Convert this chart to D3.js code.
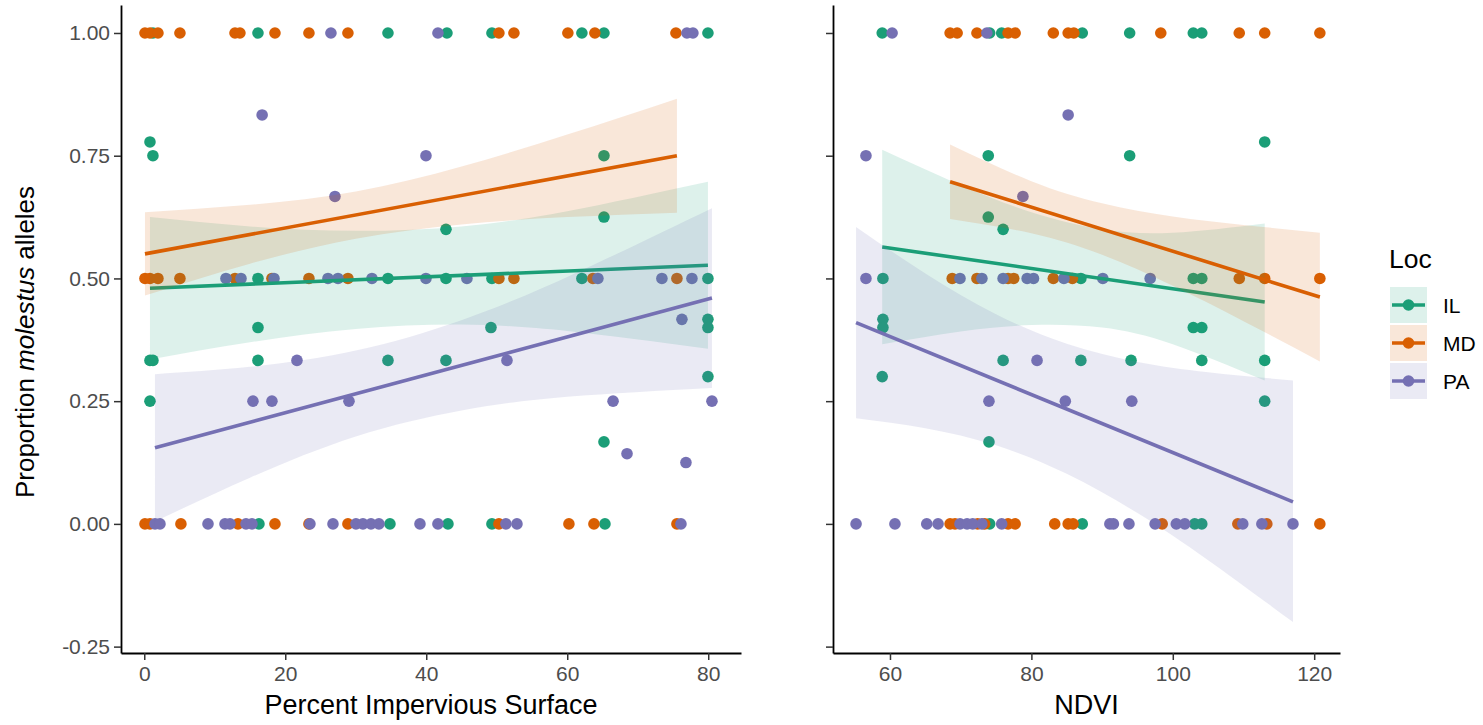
<!DOCTYPE html>
<html><head><meta charset="utf-8">
<script src="https://cdn.jsdelivr.net/npm/d3@7"></script>
<style>
body{margin:0;background:#fff}
svg{display:block}
text{font-family:"Liberation Sans",Arial,Helvetica,sans-serif}
</style>
</head><body>
<svg id="c" width="1483" height="725"></svg>
<script>
const locs = ["IL","MD","PA"];
const locColors = ["#1B9E77","#D95F02","#7570B3"];
const yTicks = [-0.25,0,0.25,0.5,0.75,1];
const yTickLabels = ["-0.25","0.00","0.25","0.50","0.75","1.00"];
const imperviousTicks = [0,20,40,60,80];
const ndviTicks = [60,80,100,120];

// Percent Impervious Surface panel: [x, proportion]
const imperviousIL = [[1.23,1],[16.13,1],[34.57,1],[42.94,1],[49.32,1],[62.08,1],[65.21,1],[79.96,1],
  [0.81,0.778],[1.23,0.75],[65.21,0.75],[65.21,0.625],[42.8,0.6],
  [16.13,0.5],[34.57,0.5],[42.8,0.5],[49.32,0.5],[62.08,0.5],[79.96,0.5],
  [79.96,0.4167],[16.13,0.4],[49.18,0.4],[79.96,0.4],
  [0.81,0.333],[1.23,0.333],[16.13,0.333],[34.57,0.333],[42.8,0.333],[79.96,0.3],[0.81,0.25],[65.21,0.167],
  [16.27,0],[34.85,0],[43.08,0],[49.32,0],[65.35,0]];
const imperviousMD = [[0.1,1],[0.81,1],[1.94,1],[5.06,1],[12.87,1],[13.57,1],[18.54,1],[23.36,1],[28.89,1],[50.31,1],[52.44,1],[60.09,1],[63.92,1],[75.42,1],
  [0.1,0.5],[0.81,0.5],[1.94,0.5],[5.06,0.5],[12.87,0.5],[18.11,0.5],[23.36,0.5],[28.89,0.5],[50.31,0.5],[52.44,0.5],[63.64,0.5],[75.56,0.5],
  [0.1,0],[0.81,0],[5.2,0],[13.29,0],[18.54,0],[23.36,0],[28.89,0],[50.31,0],[60.24,0],[63.79,0],[75.56,0]];
const imperviousPA = [[26.48,1],[41.66,1],[76.98,1],[77.83,1],[16.72,0.833],[39.96,0.75],[27.05,0.667],
  [11.59,0.5],[13.72,0.5],[18.4,0.5],[26.06,0.5],[27.48,0.5],[32.3,0.5],[39.96,0.5],[45.77,0.5],[64.35,0.5],[73.43,0.5],[77.69,0.5],
  [76.27,0.4167],[21.66,0.333],[51.45,0.333],[15.42,0.25],[18.11,0.25],[29.04,0.25],[66.5,0.25],[80.53,0.25],[68.48,0.143],[76.84,0.125],
  [1.52,0],[2.23,0],[9.04,0],[11.45,0],[12.16,0],[14.43,0],[15.28,0],[23.5,0],[26.77,0],[30.03,0],[31.02,0],[32.16,0],[33.29,0],[39.11,0],[41.66,0],[51.3,0],[52.87,0],[76.13,0]];

// NDVI panel: [x, proportion]
const ndviIL = [[58.9,1],[74.1,1],[75.8,1],[87.2,1],[93.9,1],[102.9,1],[104.1,1],
  [113.0,0.778],[73.9,0.75],[93.9,0.75],[73.9,0.625],[76.0,0.6],
  [59.0,0.5],[87.0,0.5],[102.9,0.5],[104.1,0.5],
  [59.0,0.4167],[59.0,0.4],[102.9,0.4],[104.1,0.4],
  [76.0,0.333],[87.0,0.333],[94.1,0.333],[104.1,0.333],[113.0,0.333],[58.9,0.3],[113.0,0.25],[74.0,0.167],
  [74.1,0],[87.2,0],[103.1,0],[104.1,0]];
const ndviMD = [[68.5,1],[69.5,1],[72.3,1],[76.7,1],[77.7,1],[83.1,1],[85.2,1],[86.0,1],[98.3,1],[109.4,1],[113.0,1],[120.8,1],
  [68.8,0.5],[72.3,0.5],[76.7,0.5],[77.5,0.5],[83.1,0.5],[85.8,0.5],[109.4,0.5],[113.0,0.5],[120.8,0.5],
  [68.5,0],[69.2,0],[72.4,0],[73.4,0],[76.7,0],[77.7,0],[83.3,0],[85.2,0],[85.9,0],[98.5,0],[109.2,0],[113.3,0],[120.8,0]];
const ndviPA = [[60.3,1],[73.7,1],[85.2,0.833],[56.6,0.75],[78.8,0.667],
  [56.6,0.5],[69.9,0.5],[73.0,0.5],[76.0,0.5],[79.4,0.5],[80.3,0.5],[84.6,0.5],[90.1,0.5],[96.8,0.5],
  [80.8,0.333],[74.0,0.25],[84.8,0.25],[94.2,0.25],
  [55.2,0],[60.7,0],[65.2,0],[66.8,0],[69.9,0],[70.9,0],[71.7,0],[73.0,0],[75.8,0],[91.1,0],[91.6,0],[93.8,0],[97.5,0],[100.5,0],[101.7,0],[109.9,0],[112.6,0],[117.0,0]];

// fitted lines (ends) per Loc
const imperviousFits = [[[0.81,0.48],[79.96,0.527]],[[0.1,0.55],[75.56,0.75]],[[1.52,0.155],[80.53,0.46]]];
const ndviFits = [[[58.9,0.564],[113,0.452]],[[68.5,0.697],[120.8,0.462]],[[55.2,0.41],[117,0.045]]];

// confidence bands: [x, lower, upper]
const imperviousBandIL = [[0.81,0.335,0.625],[15,0.370,0.606],[30,0.397,0.597],[45,0.406,0.606],[60,0.393,0.637],[79.96,0.357,0.697]];
const imperviousBandMD = [[0.1,0.465,0.635],[15,0.53,0.65],[30,0.581,0.677],[45,0.61,0.728],[60,0.625,0.793],[75.56,0.634,0.866]];
const imperviousBandPA = [[1.52,0.005,0.305],[15,0.094,0.320],[30,0.178,0.353],[45,0.231,0.415],[60,0.259,0.503],[80.53,0.277,0.643]];
const ndviBandIL = [[58.9,0.366,0.762],[70,0.392,0.690],[80,0.405,0.635],[90,0.400,0.600],[100,0.366,0.593],[113,0.292,0.612]];
const ndviBandMD = [[68.5,0.621,0.773],[80,0.592,0.698],[90,0.548,0.653],[100,0.485,0.626],[110,0.413,0.609],[120.8,0.331,0.593]];
const ndviBandPA = [[55.2,0.215,0.605],[65,0.195,0.510],[75,0.160,0.427],[85,0.102,0.367],[95,0.022,0.330],[105,-0.074,0.309],[117,-0.20,0.292]];

const svg = d3.select("#c");
const y = d3.scaleLinear().domain([-0.263, 1.057]).range([653, 5]);
const xL = d3.scaleLinear().domain([-3.3, 84.65]).range([121, 741]);
const xR = d3.scaleLinear().domain([51.94, 123.65]).range([833, 1340]);

function drawPanel(x, pts, fits, bands, ticks, title, showYLabels) {
  const g = svg.append("g");
  locs.forEach((l, i) => {
    g.append("g").selectAll("circle").data(pts[i]).join("circle")
      .attr("cx", d => x(d[0])).attr("cy", d => y(d[1])).attr("r", 5.8)
      .attr("fill", locColors[i]);
  });
  const area = d3.area().x(d => x(d[0])).y0(d => y(d[1])).y1(d => y(d[2])).curve(d3.curveNatural);
  const line = d3.line().x(d => x(d[0])).y(d => y(d[1]));
  locs.forEach((l, i) => {
    g.append("path").datum(bands[i]).attr("d", area)
      .attr("fill", locColors[i]).attr("fill-opacity", 0.15);
    g.append("path").datum(fits[i]).attr("d", line)
      .attr("fill", "none").attr("stroke", locColors[i]).attr("stroke-width", 3.6);
  });
  const ax = d3.axisBottom(x).tickValues(ticks).tickSize(7).tickPadding(6).tickSizeOuter(0).tickFormat(d3.format("d"));
  const gx = g.append("g").attr("transform", "translate(0,653)").call(ax);
  const ay = d3.axisLeft(y).tickValues(yTicks).tickSize(7).tickPadding(4).tickSizeOuter(0)
    .tickFormat(d => showYLabels ? yTickLabels[yTicks.indexOf(d)] : "");
  const gy = g.append("g").attr("transform", `translate(${x.range()[0]},0)`).call(ay);
  [gx, gy].forEach(a => {
    a.attr("font-family", null).attr("font-size", null);
    a.select(".domain").attr("stroke", "#000").attr("stroke-width", 1.8);
    a.selectAll(".tick line").attr("stroke", "#333").attr("stroke-width", 1.5);
    a.selectAll(".tick text").attr("fill", "#4D4D4D").style("font-size", "21px");
  });
  g.append("text").attr("x", (x.range()[0] + x.range()[1]) / 2).attr("y", 714)
    .attr("text-anchor", "middle").style("font-size", "27px").attr("fill", "#000").text(title);
}

drawPanel(xL, [imperviousIL, imperviousMD, imperviousPA], imperviousFits,
  [imperviousBandIL, imperviousBandMD, imperviousBandPA], imperviousTicks, "Percent Impervious Surface", true);
drawPanel(xR, [ndviIL, ndviMD, ndviPA], ndviFits,
  [ndviBandIL, ndviBandMD, ndviBandPA], ndviTicks, "NDVI", false);

// y axis title
const yt = svg.append("text").attr("transform", "translate(34,342) rotate(-90)")
  .attr("text-anchor", "middle").style("font-size", "26px").attr("fill", "#000");
yt.append("tspan").text("Proportion ");
yt.append("tspan").attr("font-style", "italic").text("molestus");
yt.append("tspan").text(" alleles");

// legend
const lg = svg.append("g");
lg.append("text").attr("x", 1389).attr("y", 268).style("font-size", "26.5px").attr("fill", "#000").text("Loc");
locs.forEach((l, i) => {
  const cy = 305 + i * 38;
  lg.append("rect").attr("x", 1390).attr("y", cy - 18).attr("width", 37).attr("height", 36)
    .attr("fill", locColors[i]).attr("fill-opacity", 0.15);
  lg.append("line").attr("x1", 1392).attr("x2", 1425).attr("y1", cy).attr("y2", cy)
    .attr("stroke", locColors[i]).attr("stroke-width", 3.6);
  lg.append("circle").attr("cx", 1408.5).attr("cy", cy).attr("r", 5.8).attr("fill", locColors[i]);
  lg.append("text").attr("x", 1443).attr("y", cy).attr("dy", "0.36em").style("font-size", "21px")
    .attr("fill", "#000").text(l);
});
</script>
</body></html>
